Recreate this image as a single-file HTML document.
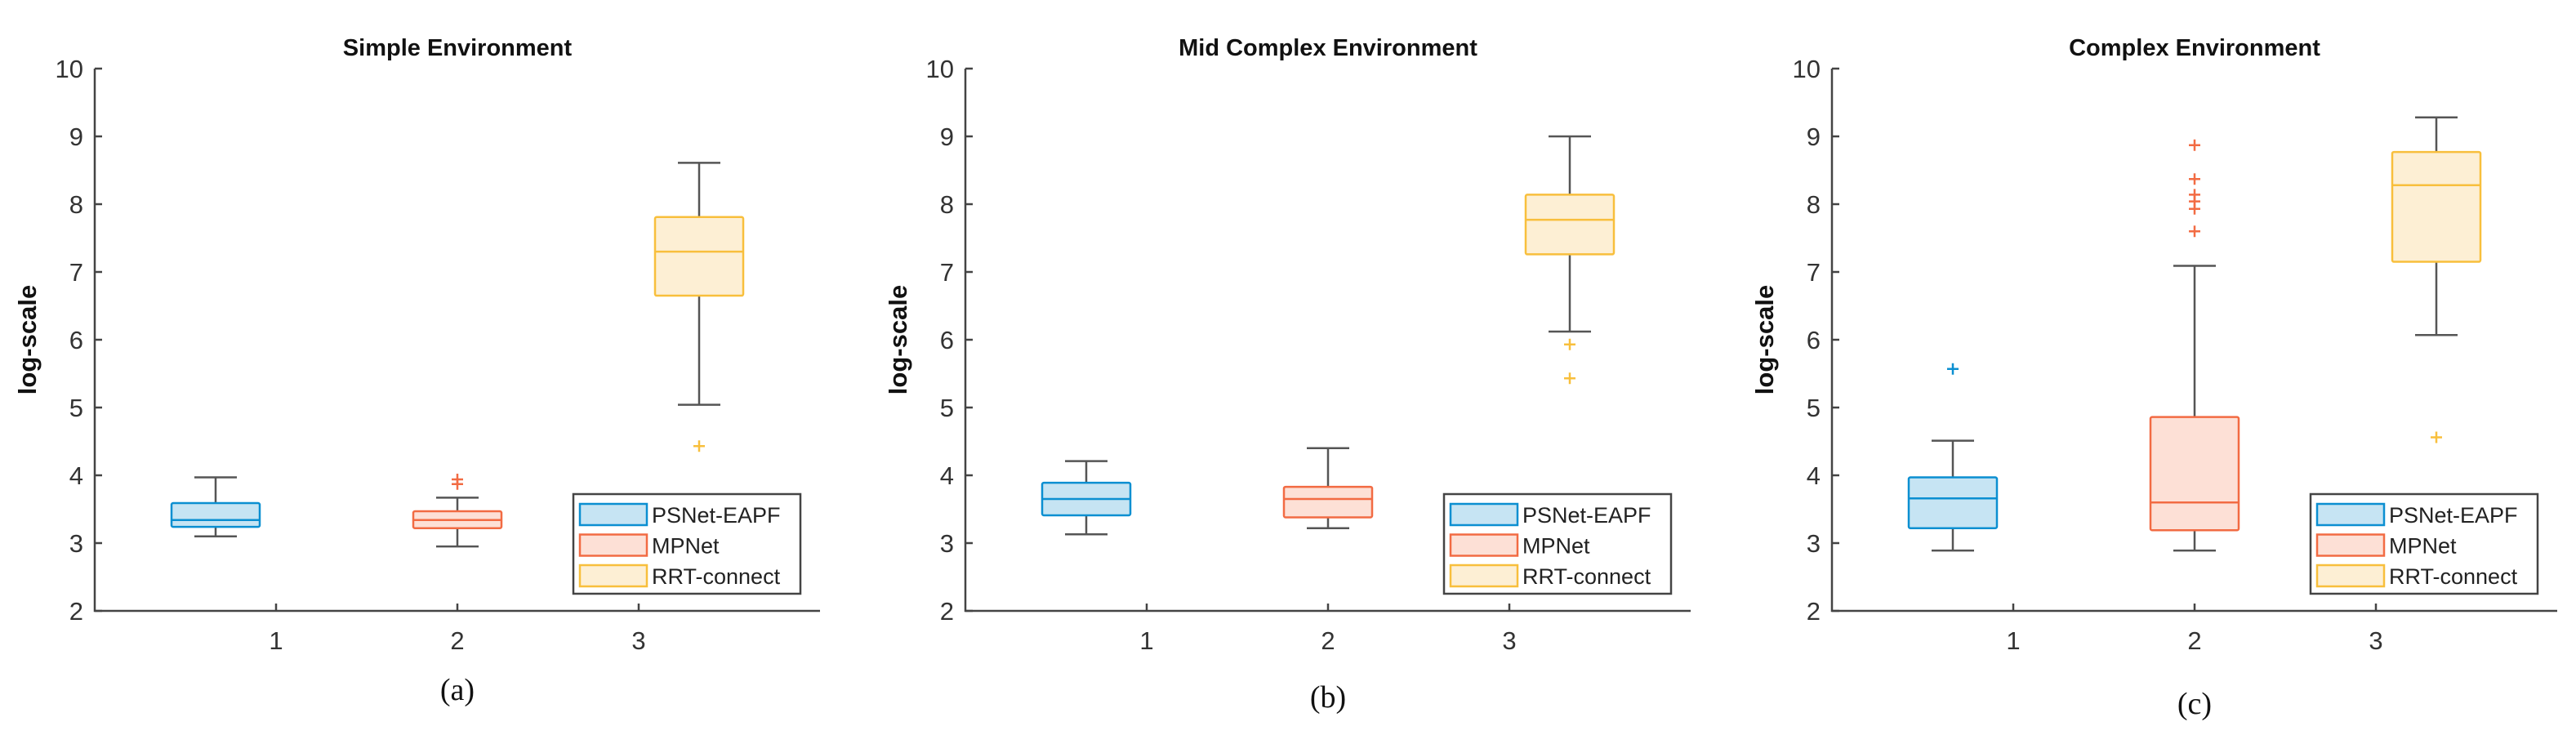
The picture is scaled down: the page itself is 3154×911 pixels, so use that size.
<!DOCTYPE html>
<html><head><meta charset="utf-8">
<style>
html,body{margin:0;padding:0;background:#fff;}
svg{display:block;font-family:"Liberation Sans",Arial,sans-serif;}
</style></head>
<body>
<svg id="chart" width="3154" height="911" viewBox="0 0 3154 911" xmlns="http://www.w3.org/2000/svg"></svg>
<script>
// ---- data ----
const panelTitles = ["Simple Environment", "Mid Complex Environment", "Complex Environment"];
const panelLetters = ["(a)", "(b)", "(c)"];
const seriesNames = ["PSNet-EAPF", "MPNet", "RRT-connect"];
const yTicks = [2,3,4,5,6,7,8,9,10];
const xTicks = [1,2,3];
// [low whisker, Q1, median, Q3, high whisker] per series, per panel
const statsA = [[3.10,3.24,3.34,3.59,3.97],[2.95,3.22,3.34,3.47,3.67],[5.04,6.65,7.30,7.81,8.61]];
const statsB = [[3.13,3.41,3.65,3.89,4.21],[3.22,3.38,3.65,3.83,4.40],[6.12,7.26,7.77,8.14,9.00]];
const statsC = [[2.89,3.22,3.66,3.97,4.51],[2.89,3.19,3.60,4.86,7.09],[6.07,7.15,8.28,8.77,9.28]];
const outliersA = [[],[3.94,3.87],[4.43]];
const outliersB = [[],[],[5.93,5.43]];
const outliersC = [[5.57],[8.87,8.37,8.14,8.04,7.93,7.60],[4.56]];
const panelStats = [statsA, statsB, statsC];
const panelOutliers = [outliersA, outliersB, outliersC];

const strokes = ["#0b8fd1", "#f26b43", "#f8bf3c"];
const fills = ["#c6e4f3", "#fde0d6", "#fdefd4"];
const panelLeft = [116, 1182, 2243];
const NS = "http://www.w3.org/2000/svg";
const svg = document.getElementById("chart");
function mk(tag, attrs, parent){
  const e = document.createElementNS(NS, tag);
  for (const k in attrs) e.setAttribute(k, attrs[k]);
  (parent||svg).appendChild(e); return e;
}
const yScale = v => 748 - (v - 2) * 83;

panelTitles.forEach((title, p) => {
  const L = panelLeft[p];
  const xScale = c => L + 222 * c;
  const g = mk("g", {});
  
  
  const t = mk("text", {x: L + 444, y: 68, "text-anchor": "middle", "font-size": 29, "font-weight": "bold", fill: "#111"}, g);
  t.textContent = title;
  
  
  const ax = mk("path", {d: `M${L},${yScale(10)} V${yScale(2)} H${L+888}`, stroke: "#444", "stroke-width": 2.5, fill: "none"}, g);
  
  
  yTicks.forEach(v => {
    mk("line", {x1: L, x2: L+9, y1: yScale(v), y2: yScale(v), stroke: "#444", "stroke-width": 2.5}, g);
    const tl = mk("text", {x: L-14, y: yScale(v)+11, "text-anchor": "end", "font-size": 31, fill: "#333"}, g);
    tl.textContent = v;
    
    
  });
  xTicks.forEach(c => {
    mk("line", {x1: xScale(c), x2: xScale(c), y1: yScale(2), y2: yScale(2)-9, stroke: "#444", "stroke-width": 2.5}, g);
    const tl = mk("text", {x: xScale(c), y: 795, "text-anchor": "middle", "font-size": 31, fill: "#333"}, g);
    tl.textContent = c;
    
    
  });
  const yl = mk("text", {x: 0, y: 0, transform: `translate(${L-72},416) rotate(-90)`, "text-anchor": "middle", "font-size": 31, "font-weight": "bold", fill: "#111"}, g);
  yl.textContent = "log-scale";
  
  
  panelStats[p].forEach((s, i) => {
    const cx = xScale(i+1) + (i-1) * 74;
    const bg = mk("g", {}, g);
    
    
    mk("line", {x1: cx, x2: cx, y1: yScale(s[0]), y2: yScale(s[1]), stroke: "#555", "stroke-width": 2.5}, bg);
    mk("line", {x1: cx, x2: cx, y1: yScale(s[3]), y2: yScale(s[4]), stroke: "#555", "stroke-width": 2.5}, bg);
    mk("line", {x1: cx-26, x2: cx+26, y1: yScale(s[0]), y2: yScale(s[0]), stroke: "#555", "stroke-width": 2.5}, bg);
    mk("line", {x1: cx-26, x2: cx+26, y1: yScale(s[4]), y2: yScale(s[4]), stroke: "#555", "stroke-width": 2.5}, bg);
    mk("rect", {x: cx-54, y: yScale(s[3]), width: 108, height: yScale(s[1]) - yScale(s[3]), fill: fills[i], stroke: strokes[i], "stroke-width": 2.5, rx: 2}, bg);
    mk("line", {x1: cx-54, x2: cx+54, y1: yScale(s[2]), y2: yScale(s[2]), stroke: strokes[i], "stroke-width": 2.5}, bg);
    panelOutliers[p][i].forEach(o => {
      const oy = yScale(o);
      const og = mk("path", {d: `M${cx-7},${oy} H${cx+7} M${cx},${oy-7} V${oy+7}`, stroke: strokes[i], "stroke-width": 2.5, fill: "none"}, bg);
      
      
    });
  });
  const lg = mk("g", {}, g);
  
  
  mk("rect", {x: L+586, y: 605, width: 278, height: 122, fill: "#fff", stroke: "#444", "stroke-width": 2.5}, lg);
  seriesNames.forEach((n, i) => {
    const ry = 630 + i * 37.5;
    const le = mk("g", {}, lg);
    
    
    mk("rect", {x: L+594, y: ry-13, width: 82, height: 26, fill: fills[i], stroke: strokes[i], "stroke-width": 2.5}, le);
    const tx = mk("text", {x: L+682, y: ry+10, "font-size": 27, fill: "#222"}, le);
    tx.textContent = n;
  });
  const pl = mk("text", {x: L+444, y: [857,866,874][p], "text-anchor": "middle", "font-size": 38, "font-family": "Liberation Serif, serif", fill: "#111"}, g);
  pl.textContent = panelLetters[p];
  
  
});
</script>
</body></html>
